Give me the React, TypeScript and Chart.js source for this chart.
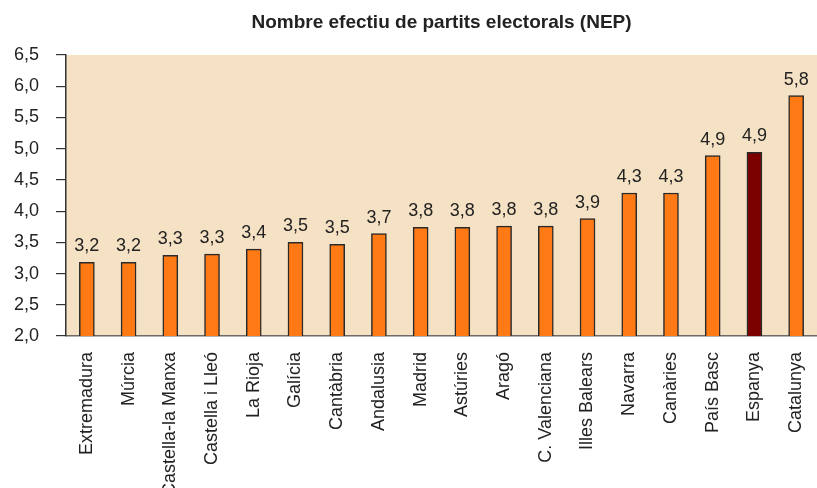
import React, { useEffect, useRef } from "react";
import { Chart, registerables } from "chart.js";

Chart.register(...registerables);

const categories = [
  "Extremadura", "Múrcia", "Castella-la Manxa", "Castella i Lleó", "La Rioja",
  "Galícia", "Cantàbria", "Andalusia", "Madrid", "Astúries", "Aragó",
  "C. Valenciana", "Illes Balears", "Navarra", "Canàries", "País Basc",
  "Espanya", "Catalunya",
];
const values = [
  3.18, 3.18, 3.29, 3.31, 3.39, 3.5, 3.47, 3.64, 3.74, 3.74, 3.76, 3.76,
  3.88, 4.29, 4.29, 4.89, 4.94, 5.85,
];
const valueLabels = [
  "3,2", "3,2", "3,3", "3,3", "3,4", "3,5", "3,5", "3,7", "3,8", "3,8", "3,8",
  "3,8", "3,9", "4,3", "4,3", "4,9", "4,9", "5,8",
];
const highlighted = ["Espanya"];
const titleText = "Nombre efectiu de partits electorals (NEP)";

const FONT = "'Liberation Sans', Arial, sans-serif";
const TEXT = "#222222";

const bgPlugin = {
  id: "plotBg",
  beforeDraw(chart: any) {
    const { ctx, chartArea } = chart;
    ctx.save();
    ctx.fillStyle = "#F5E1C3";
    ctx.fillRect(chartArea.left, chartArea.top, chartArea.right - chartArea.left, chartArea.bottom - chartArea.top);
    ctx.restore();
  },
};

const titlePlugin = {
  id: "areaTitle",
  afterDraw(chart: any) {
    const { ctx, chartArea } = chart;
    ctx.save();
    ctx.font = `bold 19px ${FONT}`;
    ctx.fillStyle = TEXT;
    ctx.textAlign = "center";
    ctx.textBaseline = "alphabetic";
    ctx.fillText(titleText, (chartArea.left + chartArea.right) / 2, 28);
    ctx.restore();
  },
};

const labelPlugin = {
  id: "valueLabels",
  afterDatasetsDraw(chart: any) {
    const { ctx } = chart;
    const meta = chart.getDatasetMeta(0);
    ctx.save();
    ctx.font = `18px ${FONT}`;
    ctx.fillStyle = TEXT;
    ctx.textAlign = "center";
    ctx.textBaseline = "alphabetic";
    meta.data.forEach((el: any, i: number) => {
      ctx.fillText(valueLabels[i], el.x, el.y - 11);
    });
    ctx.restore();
  },
};

export default function App() {
  const ref = useRef<HTMLCanvasElement | null>(null);
  useEffect(() => {
    if (!ref.current) return;
    const chart = new Chart(ref.current, {
      type: "bar",
      data: {
        labels: categories,
        datasets: [
          {
            data: values,
            backgroundColor: categories.map((c) => (highlighted.includes(c) ? "#7B0000" : "#FF7A14")),
            borderColor: "#2A2A2A",
            borderWidth: 1.5,
            barThickness: 15,
          },
        ],
      },
      options: {
        animation: false,
        responsive: false,
        maintainAspectRatio: false,
        devicePixelRatio: 1,
        layout: { padding: { top: 55, left: 0, right: 0, bottom: 0 } },
        plugins: {
          legend: { display: false },
          tooltip: { enabled: false },
          title: { display: false },
        },
        scales: {
          x: {
            grid: { display: false },
            border: { display: true, color: "#6E6A66", width: 1.5 },
            ticks: {
              color: TEXT,
              font: { family: FONT, size: 18 },
              minRotation: 90,
              maxRotation: 90,
              autoSkip: false,
              padding: 8,
            },
            afterFit(scale: any) {
              scale.height = 152;
              scale.paddingLeft = 0;
              scale.paddingRight = 0;
            },
          },
          y: {
            min: 2,
            max: 6.5,
            grid: { display: true, drawOnChartArea: false, drawTicks: true, tickLength: 10, color: "#333333", lineWidth: 1.2 },
            border: { display: true, color: "#333333", width: 1.5 },
            ticks: {
              stepSize: 0.5,
              color: TEXT,
              font: { family: FONT, size: 18 },
              padding: 17,
              callback: (v: any) => Number(v).toFixed(1).replace(".", ","),
            },
            afterFit(scale: any) {
              scale.width = 66;
              scale.paddingTop = 0;
              scale.paddingBottom = 0;
            },
          },
        },
      },
      plugins: [bgPlugin, labelPlugin, titlePlugin],
    });
    return () => chart.destroy();
  }, []);
  return (
    <div style={{ position: "absolute", left: 0, top: 0, width: 817, height: 488 }}>
      <canvas ref={ref} width={817} height={488} style={{ width: 817, height: 488 }} />
    </div>
  );
}
